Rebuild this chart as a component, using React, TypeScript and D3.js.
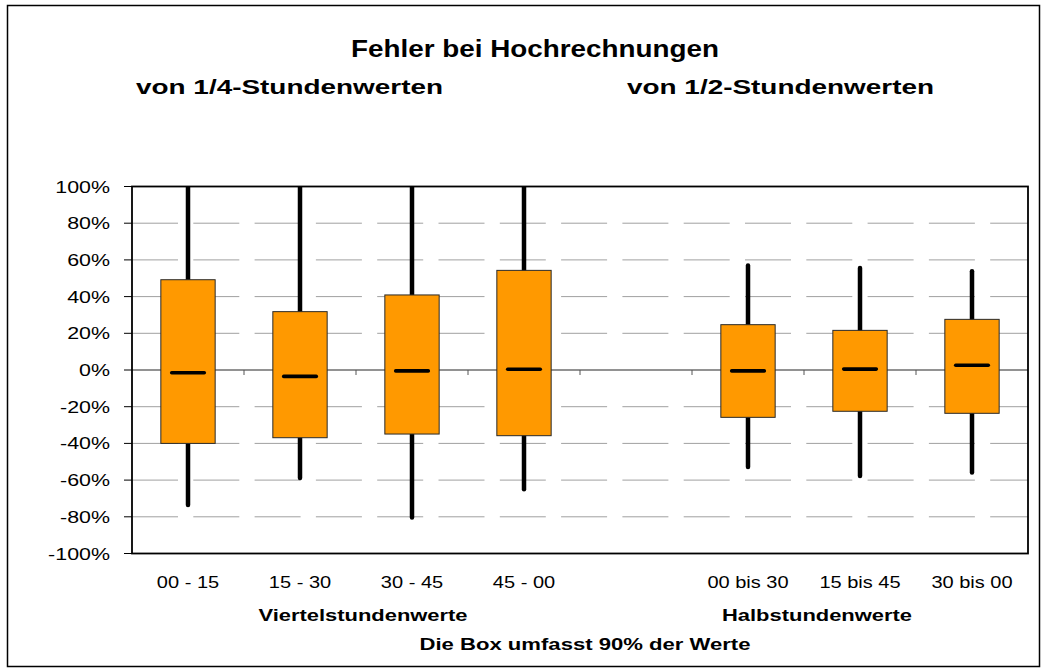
import React, { Component } from 'react';
import * as d3 from 'd3';

// Kategorien (leerer Platz trennt Viertel- und Halbstundenwerte)
const categories = ['00 - 15', '15 - 30', '30 - 45', '45 - 00', '', '00 bis 30', '15 bis 45', '30 bis 00'];

// Werte in Prozent
const whiskerLow = [-73.6, -58.8, -80.4, -65, null, -52.8, -57.8, -55.8];
const boxLow = [-40, -36.9, -34.9, -35.8, null, -25.8, -22.5, -23.6];
const median = [-1.5, -3.5, -0.5, 0.4, null, -0.5, 0.5, 2.6];
const boxHigh = [49.2, 31.8, 40.9, 54.3, null, 24.7, 21.6, 27.6];
const whiskerHigh = [100, 100, 100, 100, null, 57, 55.6, 53.8];

const yTicks = [-100, -80, -60, -40, -20, 0, 20, 40, 60, 80, 100];

const FONT = '"Liberation Sans", Arial, sans-serif';

class App extends Component {
    svgRef = React.createRef<SVGSVGElement>();

    componentDidMount() {
        this.draw();
    }

    draw() {
        const svg = d3.select(this.svgRef.current);
        svg.selectAll('*').remove();

        const left = 132, right = 1028, top = 186.5, bottom = 553.5;

        const x = d3.scaleBand()
            .domain(categories.map((c, i) => i + ''))
            .range([left, right])
            .paddingInner(0)
            .paddingOuter(0);

        const y = d3.scaleLinear()
            .domain([-100, 100])
            .range([bottom, top]);

        const boxW = x.bandwidth() * 0.485;
        const medW = boxW * 0.6;

        // aeusserer Rahmen
        svg.append('rect')
            .attr('x', 7.5).attr('y', 5.5)
            .attr('width', 1032).attr('height', 661)
            .attr('fill', '#fff')
            .attr('stroke', '#000')
            .attr('stroke-width', 1.5);

        // gestrichelte Gitterlinien
        svg.append('g')
            .selectAll('line')
            .data(yTicks.filter(t => t !== 0 && Math.abs(t) !== 100))
            .enter()
            .append('line')
            .attr('x1', left).attr('x2', right)
            .attr('y1', d => y(d)).attr('y2', d => y(d))
            .attr('stroke', '#a0a0a0')
            .attr('stroke-width', 1)
            .attr('stroke-dasharray', '46 15.3');

        // Nulllinie
        svg.append('line')
            .attr('x1', left).attr('x2', right)
            .attr('y1', y(0)).attr('y2', y(0))
            .attr('stroke', '#6e6e6e')
            .attr('stroke-width', 1.3);

        // Teilstriche an der Nulllinie
        svg.append('g')
            .selectAll('line')
            .data(categories.slice(1))
            .enter()
            .append('line')
            .attr('x1', (d, i) => x((i + 1) + '')!)
            .attr('x2', (d, i) => x((i + 1) + '')!)
            .attr('y1', y(0)).attr('y2', y(0) + 5)
            .attr('stroke', '#555')
            .attr('stroke-width', 1);

        const idx = categories.map((c, i) => i).filter(i => median[i] !== null);

        svg.append('clipPath')
            .attr('id', 'plotClip')
            .append('rect')
            .attr('x', left).attr('y', top)
            .attr('width', right - left).attr('height', bottom - top);

        const cx = (i: number) => x(i + '')! + x.bandwidth() / 2;

        // Whisker
        svg.append('g')
            .attr('clip-path', 'url(#plotClip)')
            .selectAll('line')
            .data(idx)
            .enter()
            .append('line')
            .attr('x1', i => cx(i)).attr('x2', i => cx(i))
            .attr('y1', i => y(whiskerLow[i] as number))
            .attr('y2', i => y(whiskerHigh[i] as number))
            .attr('stroke', '#000')
            .attr('stroke-width', 4.5)
            .attr('stroke-linecap', 'round');

        // Boxen
        svg.append('g')
            .selectAll('rect')
            .data(idx)
            .enter()
            .append('rect')
            .attr('x', i => cx(i) - boxW / 2)
            .attr('y', i => y(boxHigh[i] as number))
            .attr('width', boxW)
            .attr('height', i => y(boxLow[i] as number) - y(boxHigh[i] as number))
            .attr('fill', '#FF9900')
            .attr('stroke', '#2a2a2a')
            .attr('stroke-width', 1);

        // Median
        svg.append('g')
            .selectAll('line')
            .data(idx)
            .enter()
            .append('line')
            .attr('x1', i => cx(i) - medW / 2)
            .attr('x2', i => cx(i) + medW / 2)
            .attr('y1', i => y(median[i] as number))
            .attr('y2', i => y(median[i] as number))
            .attr('stroke', '#000')
            .attr('stroke-width', 3.6)
            .attr('stroke-linecap', 'round');

        // Rahmen der Zeichenflaeche
        svg.append('rect')
            .attr('x', left).attr('y', top)
            .attr('width', right - left).attr('height', bottom - top)
            .attr('fill', 'none')
            .attr('stroke', '#000')
            .attr('stroke-width', 1.8);

        // y-Achse Teilstriche
        svg.append('g')
            .selectAll('line')
            .data(yTicks)
            .enter()
            .append('line')
            .attr('x1', left - 8).attr('x2', left)
            .attr('y1', d => y(d)).attr('y2', d => y(d))
            .attr('stroke', '#000')
            .attr('stroke-width', 1);

        // Text mit horizontaler Streckung
        const label = (tx: number, ty: number, s: string, size: number, bold: boolean, anchor: string, sx: number) => {
            svg.append('text')
                .attr('transform', 'translate(' + tx + ',' + ty + ') scale(' + sx + ',1)')
                .attr('text-anchor', anchor)
                .attr('font-family', FONT)
                .attr('font-size', size)
                .attr('font-weight', bold ? 'bold' : 'normal')
                .attr('fill', '#000')
                .text(s);
        };

        yTicks.forEach(t => {
            label(110, y(t) + 6, t + '%', 17, false, 'end', 1.26);
        });

        categories.forEach((c, i) => {
            if (c) label(cx(i), 588, c, 16, false, 'middle', 1.25);
        });

        label(351, 57, 'Fehler bei Hochrechnungen', 24, true, 'start', 1.16);
        label(136, 94, 'von 1/4-Stundenwerten', 21, true, 'start', 1.33);
        label(627, 94, 'von 1/2-Stundenwerten', 21, true, 'start', 1.33);

        label(363, 621, 'Viertelstundenwerte', 17, true, 'middle', 1.29);
        label(817, 621, 'Halbstundenwerte', 17, true, 'middle', 1.29);
        label(585, 650, 'Die Box umfasst 90% der Werte', 17, true, 'middle', 1.3);
    }

    render() {
        return (
            <svg ref={this.svgRef}
                 width={1047}
                 height={672}
                 style={{ position: 'absolute', left: 0, top: 0, background: '#fff' }} />
        );
    }
}

export default App;
